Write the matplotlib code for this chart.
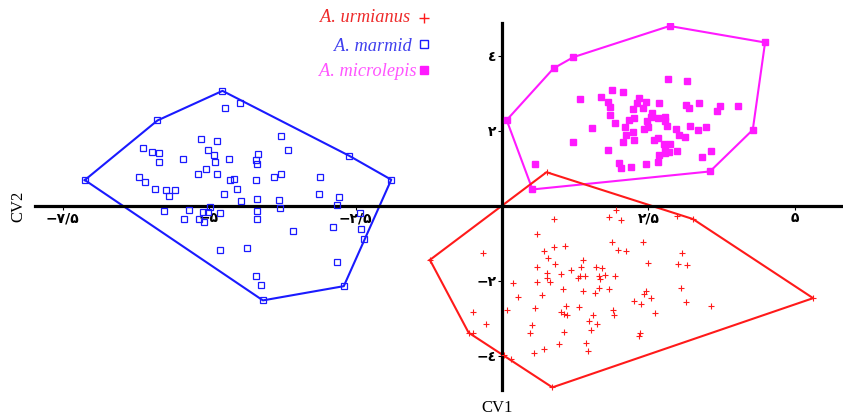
import numpy as np
import matplotlib.pyplot as plt

# A. marmid (blue open squares)
marmid_hull_x = [-7.12, -5.88, -4.77, -2.61, -1.89, -2.70, -4.08]
marmid_hull_y = [0.69, 2.28, 3.07, 1.34, 0.70, -2.14, -2.52]
marmid_x = [-4.73, -4.47, -3.77, -5.14, -4.87, -3.65, -6.12, -5.97, -5.86, -5.02,
            -4.92, -4.16, -5.44, -4.90, -4.66, -4.20, -4.18, -5.86, -5.06, -5.18,
            -4.87, -6.19, -6.09, -4.65, -4.57, -4.20, -3.89, -3.77, -3.10, -5.93,
            -5.74, -5.58, -5.69, -4.52, -4.75, -4.45, -4.18, -3.81, -3.12, -2.79,
            -2.82, -3.79, -4.98, -5.76, -5.34, -5.11, -5.02, -4.82, -4.18, -4.18,
            -5.42, -5.17, -5.08, -2.88, -2.40, -2.43, -2.35, -3.57, -4.82, -4.36,
            -2.82, -4.20, -4.11]
marmid_y = [2.62, 2.74, 1.87, 1.79, 1.73, 1.50, 1.54, 1.44, 1.42, 1.48,
            1.37, 1.39, 1.24, 1.17, 1.26, 1.23, 1.13, 1.17, 0.99, 0.84,
            0.84, 0.76, 0.65, 0.68, 0.73, 0.69, 0.76, 0.84, 0.78, 0.44,
            0.43, 0.43, 0.27, 0.45, 0.31, 0.14, 0.18, 0.17, 0.31, 0.25,
            0.03, -0.05, -0.02, -0.14, -0.12, -0.17, -0.16, -0.20, -0.13, -0.36,
            -0.35, -0.35, -0.43, -0.55, -0.61, -0.20, -0.89, -0.68, -1.18, -1.13,
            -1.49, -1.87, -2.10]

# A. microlepis (magenta filled squares)
micro_hull_x = [0.08, 0.88, 1.22, 2.86, 4.49, 4.28, 3.55, 0.52]
micro_hull_y = [2.29, 3.67, 3.97, 4.80, 4.36, 2.03, 0.92, 0.44]
micro_x = [2.84, 3.15, 1.33, 1.87, 2.06, 1.69, 1.81, 1.85, 2.33, 2.30,
           2.45, 2.24, 2.41, 2.68, 1.85, 2.56, 2.25, 2.17, 2.47, 2.54,
           2.67, 2.78, 2.79, 3.14, 3.19, 3.36, 3.72, 3.67, 4.02, 1.54,
           1.93, 2.10, 2.42, 2.50, 2.81, 2.97, 3.21, 3.35, 3.49, 2.24,
           2.12, 3.02, 3.12, 1.21, 2.07, 2.26, 2.59, 2.66, 2.76, 2.87,
           2.79, 1.81, 2.99, 2.79, 2.85, 2.68, 3.56, 3.42, 0.56, 2.00,
           2.03, 2.21, 2.45, 2.66]
micro_y = [3.39, 3.33, 2.84, 3.08, 3.05, 2.91, 2.78, 2.63, 2.87, 2.74,
           2.76, 2.59, 2.60, 2.75, 2.43, 2.49, 2.35, 2.28, 2.27, 2.36,
           2.35, 2.36, 2.27, 2.68, 2.62, 2.74, 2.66, 2.52, 2.66, 2.07,
           2.20, 2.11, 2.05, 2.11, 2.12, 2.05, 2.12, 2.03, 2.11, 1.96,
           1.88, 1.90, 1.85, 1.71, 1.70, 1.75, 1.76, 1.82, 1.66, 1.66,
           1.56, 1.50, 1.47, 1.42, 1.44, 1.35, 1.47, 1.31, 1.11, 1.15,
           1.01, 1.03, 1.12, 1.18]

# A. urmianus (red plus)
urm_hull_x = [-1.23, 0.76, 3.26, 5.31, 0.86, -0.57]
urm_hull_y = [-1.44, 0.90, -0.35, -2.46, -4.84, -3.38]
urm_x = [1.95, 1.83, 2.03, 0.89, 2.98, 0.59, 1.88, 2.41, 0.71, 0.89,
         1.08, 1.98, 2.12, -0.32, 3.07, 0.78, 1.39, 0.90, 2.50, 3.00,
         3.15, 0.59, 1.34, 1.61, 1.71, 1.17, 0.77, 1.01, 1.33, 1.42,
         1.65, 1.76, 1.93, 1.30, 0.77, 1.68, 0.19, 0.59, 0.82, 1.04,
         1.38, 1.66, 1.83, 1.58, 2.46, 2.42, 3.05, 0.68, 0.28, 2.54,
         2.26, 2.37, 3.14, 3.57, 0.09, 0.56, 1.09, 1.31, 1.00, 1.06,
         1.11, 1.90, 1.92, 1.56, 2.61, -0.49, -0.28, 1.48, 1.63, 0.51,
         1.52, 0.47, 1.05, 2.35, 2.33, -0.50, 0.97, 1.43, 0.72, 0.55,
         1.46, 0.03, 0.15]
urm_y = [-0.11, -0.29, -0.38, -0.36, -0.26, -0.75, -0.97, -0.97, -1.21, -1.10,
         -1.08, -1.17, -1.19, -1.26, -1.26, -1.40, -1.45, -1.55, -1.53, -1.55,
         -1.57, -1.64, -1.64, -1.64, -1.66, -1.72, -1.80, -1.82, -1.87, -1.88,
         -1.87, -1.85, -1.86, -1.93, -1.93, -1.96, -2.06, -2.04, -2.04, -2.21,
         -2.26, -2.20, -2.21, -2.32, -2.26, -2.35, -2.19, -2.37, -2.44, -2.45,
         -2.53, -2.62, -2.55, -2.68, -2.78, -2.73, -2.66, -2.69, -2.84, -2.88,
         -2.92, -2.77, -2.90, -2.92, -2.85, -2.84, -3.14, -3.06, -3.14, -3.18,
         -3.31, -3.40, -3.37, -3.39, -3.46, -3.40, -3.69, -3.65, -3.81, -3.92,
         -3.87, -3.97, -4.09]

xtick_vals = [-7.5, -5, -2.5, 2.5, 5]
xtick_labels = ['\u2212\u06f7/\u06f5', '\u2212\u06f5', '\u2212\u06f2/\u06f5', '\u06f2/\u06f5', '\u06f5']
ytick_vals = [-4, -2, 2, 4]
ytick_labels = ['\u2212\u0664', '\u2212\u0662', '\u0662', '\u0664']

RED = '#ff1a1a'
BLUE = '#1a1aff'
MAG = '#ff1aff'

fig = plt.figure(figsize=(8.43, 4.19), dpi=100)
ax = fig.add_axes([35 / 843, 29 / 419, 808 / 843, 367 / 419])
ax.set_xlim(-7.97, 5.82)
ax.set_ylim(-4.91, 4.88)

for s in ['top', 'right']:
    ax.spines[s].set_visible(False)
for s in ['left', 'bottom']:
    ax.spines[s].set_position(('data', 0))
    ax.spines[s].set_linewidth(2.3)

# hulls
for hx, hy, c in [(marmid_hull_x, marmid_hull_y, BLUE),
                  (micro_hull_x, micro_hull_y, MAG),
                  (urm_hull_x, urm_hull_y, RED)]:
    ax.plot(hx + hx[:1], hy + hy[:1], color=c, lw=1.5, zorder=2)

ax.plot(marmid_x + marmid_hull_x, marmid_y + marmid_hull_y, ls='none', marker='s',
        ms=4.6, mfc='none', mec=BLUE, mew=0.9, zorder=3)
ax.plot(micro_x + micro_hull_x, micro_y + micro_hull_y, ls='none', marker='s',
        ms=4.3, color=MAG, zorder=3)
ax.plot(urm_x + urm_hull_x, urm_y + urm_hull_y, ls='none', marker='+',
        ms=5, mew=0.8, color=RED, zorder=3)

ax.set_xticks(xtick_vals)
ax.set_xticklabels(xtick_labels, fontsize=10, fontweight='bold', family='DejaVu Sans')
ax.set_yticks(ytick_vals)
ax.set_yticklabels(ytick_labels, fontsize=10, fontweight='bold', family='DejaVu Sans')
ax.tick_params(axis='both', length=3, width=0.8, pad=1)

fig.text(18 / 843, 1 - 206 / 419, 'CV2', rotation=90, ha='center', va='center',
         fontsize=12, family='Liberation Serif')
fig.text(497 / 843, 1 - 408 / 419, 'CV1', ha='center', va='center',
         fontsize=12, family='Liberation Serif')

# legend as text
leg = [('A. urmianus', RED, '#ee2a2a', '+', 18, 410),
       ('A. marmid', BLUE, '#4040ee', 's', 46, 412),
       ('A. microlepis', MAG, '#ff55ff', 's', 71, 417)]
for name, mc, tc, m, py, px in leg:
    fig.text(px / 843, 1 - py / 419, name, ha='right', va='center', color=tc,
             fontsize=13.2, style='italic', family='Liberation Serif')
    if name == 'A. marmid':
        ax.plot([424 / 843], [1 - 44 / 419], marker='s', ms=6, mfc='none', mec=mc,
                mew=1.0, transform=fig.transFigure, clip_on=False)
    elif m == 's':
        ax.plot([424 / 843], [1 - 70 / 419], marker='s', ms=5.5, color=mc,
                transform=fig.transFigure, clip_on=False)
    else:
        ax.plot([424 / 843], [1 - 18 / 419], marker='+', ms=7, mew=1.0, color=mc,
                transform=fig.transFigure, clip_on=False)

fig.savefig('out.png', dpi=100)
